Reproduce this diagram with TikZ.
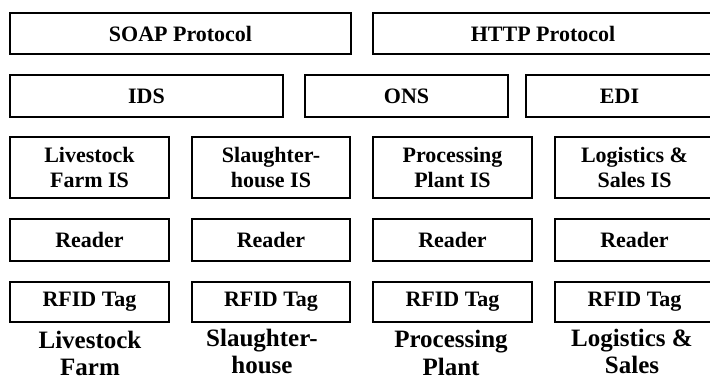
\documentclass[tikz,border=0pt]{standalone}
\usepackage{fontspec}
\setmainfont{Liberation Serif}
\begin{document}
\begin{tikzpicture}[x=1pt,y=-1pt,
  box/.style={draw=black,line width=1.6pt,inner sep=0pt,align=center,
    font=\bfseries\fontsize{22}{25}\selectfont},
  lbl/.style={inner sep=0pt,align=center,font=\bfseries\fontsize{25}{27.5}\selectfont}]
\useasboundingbox (0,0) rectangle (710,379);
% row 1
\node[box,minimum width=341pt,minimum height=41pt] (soap) at (180.5,33.5) {SOAP Protocol};
\node[box,minimum width=340pt,minimum height=41pt] (http) at (543,33.5) {HTTP Protocol};
% row 2
\node[box,minimum width=273pt,minimum height=42pt] (ids) at (146.5,96) {IDS};
\node[box,minimum width=203pt,minimum height=42pt] (ons) at (406.5,96) {ONS};
\node[box,minimum width=187pt,minimum height=42pt] (edi) at (619.5,96) {EDI};
% row 3
\node[box,minimum width=159pt,minimum height=61pt] (is1) at (89.5,167.5) {Livestock\\Farm IS};
\node[box,minimum width=158pt,minimum height=61pt] (is2) at (271,167.5) {Slaughter-\\house IS};
\node[box,minimum width=159pt,minimum height=61pt] (is3) at (452.5,167.5) {Processing\\Plant IS};
\node[box,minimum width=159pt,minimum height=61pt] (is4) at (634.5,167.5) {Logistics \&\\Sales IS};
% row 4
\node[box,minimum width=159pt,minimum height=42pt] (rd1) at (89.5,240) {Reader};
\node[box,minimum width=158pt,minimum height=42pt] (rd2) at (271,240) {Reader};
\node[box,minimum width=159pt,minimum height=42pt] (rd3) at (452.5,240) {Reader};
\node[box,minimum width=159pt,minimum height=42pt] (rd4) at (634.5,240) {Reader};
% row 5
\node[box,minimum width=159pt,minimum height=40pt] (tg1) at (89.5,302) {RFID Tag};
\node[box,minimum width=158pt,minimum height=40pt] (tg2) at (271,302) {RFID Tag};
\node[box,minimum width=159pt,minimum height=40pt] (tg3) at (452.5,302) {RFID Tag};
\node[box,minimum width=159pt,minimum height=40pt] (tg4) at (634.5,302) {RFID Tag};
% bottom labels
\node[lbl,anchor=base] (l1) at (90,376) {Livestock\\Farm};
\node[lbl,anchor=base] (l2) at (262,374) {Slaughter-\\house};
\node[lbl,anchor=base] (l3) at (451,375.5) {Processing\\Plant};
\node[lbl,anchor=base] (l4) at (632,374) {Logistics \&\\Sales};
\end{tikzpicture}
\end{document}
